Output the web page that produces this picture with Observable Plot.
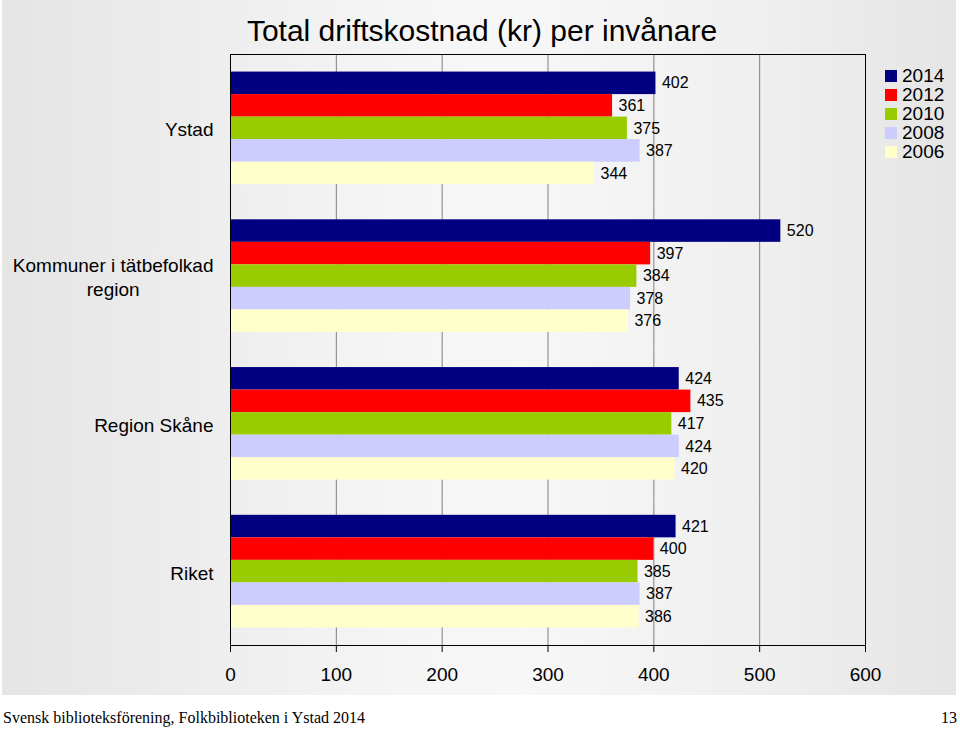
<!DOCTYPE html>
<html>
<head>
<meta charset="utf-8">
<script src="https://cdn.jsdelivr.net/npm/d3@7"></script>
<script src="https://cdn.jsdelivr.net/npm/@observablehq/plot@0.6"></script>
<style>
  body { margin: 0; background: #fff; font-family: "Liberation Sans", Arial, sans-serif; color: #000; }
  #page { position: relative; width: 960px; height: 730px; overflow: hidden; }
  #panel {
    position: absolute; left: 2px; top: 0; width: 954px; height: 695px;
    background: linear-gradient(to right, #e5e5e5 0%, #ededed 20%, #f6f6f6 45%, #f7f7f7 55%, #efefef 80%, #e5e5e5 100%);
  }
  #title {
    height: 44px; box-sizing: border-box; padding-top: 16px; padding-left: 6px;
    font-size: 30px; line-height: 30px; text-align: center; white-space: nowrap;
  }
  #legend { position: absolute; left: 883px; top: 66px; }
  #legend .lg-swatch { padding-bottom: 0 !important; height: 19px; line-height: 19px; display: flex; align-items: center; }
  #legend .lg-swatch svg { margin-right: 5px !important; }
  #footer { position: absolute; left: 3px; top: 708px; font-family: "Liberation Serif", "DejaVu Serif", serif; font-size: 16px; line-height: 20px; }
  #pageno { position: absolute; right: 3px; top: 708px; font-family: "Liberation Serif", "DejaVu Serif", serif; font-size: 16px; line-height: 20px; }
</style>
</head>
<body>
<div id="page">
  <div id="panel">
    <div id="title">Total driftskostnad (kr) per invånare</div>
    <div id="chart"></div>
    <div id="legend"></div>
  </div>
  <div id="footer">Svensk biblioteksförening, Folkbiblioteken i Ystad 2014</div>
  <div id="pageno">13</div>
</div>
<script>
const categories = ["Ystad", "Kommuner i tätbefolkad region", "Region Skåne", "Riket"];
const categoryLabels = ["Ystad", "Kommuner i tätbefolkad\nregion", "Region Skåne", "Riket"];
const years = ["2014", "2012", "2010", "2008", "2006"];
const colors = ["#000080", "#ff0000", "#99cc00", "#ccccff", "#ffffcc"];
const v2014 = [402, 520, 424, 421];
const v2012 = [361, 397, 435, 400];
const v2010 = [375, 384, 417, 385];
const v2008 = [387, 378, 424, 387];
const v2006 = [344, 376, 420, 386];
const xTicks = [0, 100, 200, 300, 400, 500, 600];

const series = [v2014, v2012, v2010, v2008, v2006];
const rows = categories.flatMap((c, i) => years.map((y, j) => ({cat: c, year: y, value: series[j][i]})));
const labelOf = new Map(categories.map((c, i) => [c, categoryLabels[i]]));

const chart = Plot.plot({
  width: 954,
  height: 651,
  marginTop: 10,
  marginBottom: 50,
  marginLeft: 228,
  marginRight: 91,
  style: {background: "transparent", fontFamily: "'Liberation Sans', Arial, sans-serif", fontSize: "19px", color: "#000", overflow: "visible"},
  x: {domain: [0, 600], label: null},
  y: {domain: years, paddingInner: 0, paddingOuter: 0.78, axis: null, round: false, label: null},
  fy: {domain: categories, padding: 0, round: false, label: null},
  color: {domain: years, range: colors},
  marks: [
    Plot.gridX({ticks: xTicks, stroke: "#808080", strokeOpacity: 1}),
    Plot.barX(rows, {x: "value", y: "year", fy: "cat", fill: "year"}),
    Plot.text(rows, {x: "value", y: "year", fy: "cat", text: d => String(d.value), textAnchor: "start", dx: 6, fontSize: 16, fill: "#000"}),
    Plot.axisX({ticks: xTicks, tickSize: 7, tickPadding: 15, fontSize: 19, stroke: "#000", fill: "#000", label: null}),
    Plot.axisFy({anchor: "left", tickSize: 0, tickPadding: 17, fontSize: 19, lineHeight: 1.3, fill: "#000", label: null, tickFormat: d => labelOf.get(d)}),
    Plot.frame({facet: "super", stroke: "#000"})
  ]
});
document.getElementById("chart").append(chart);

// center-align the lines of wrapped category labels, keeping the block right-aligned
chart.querySelectorAll("text").forEach(t => {
  const spans = t.querySelectorAll("tspan");
  if (spans.length > 1) {
    const w = t.getBBox().width;
    t.setAttribute("text-anchor", "middle");
    spans.forEach(s => s.setAttribute("x", -w / 2));
  }
});

const legend = Plot.legend({
  color: {domain: years, range: colors},
  legend: "swatches",
  columns: 1,
  swatchSize: 12,
  className: "lg",
  style: {fontSize: "19px", fontFamily: "'Liberation Sans', Arial, sans-serif", color: "#000"}
});
document.getElementById("legend").append(legend);
</script>
</body>
</html>
